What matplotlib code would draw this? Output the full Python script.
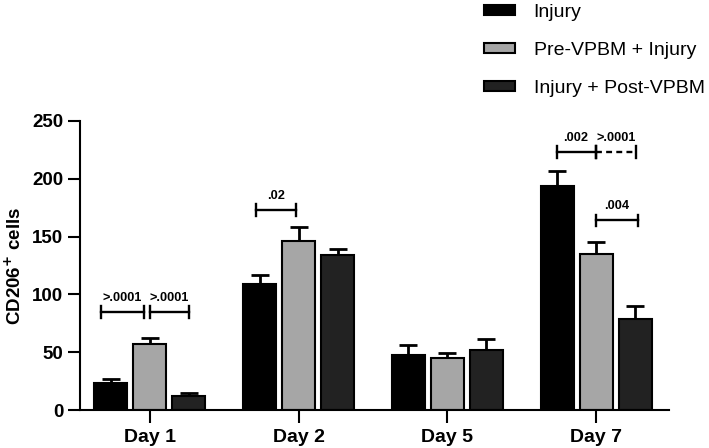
import matplotlib
matplotlib.use("Agg")
import matplotlib.pyplot as plt
import numpy as np

plt.rcParams['font.family'] = ['Liberation Sans', 'DejaVu Sans']

days = ["Day 1", "Day 2", "Day 5", "Day 7"]
series_names = ["Injury", "Pre-VPBM + Injury", "Injury + Post-VPBM"]
injury = [23, 109, 48, 194]
injury_err = [4, 8, 8, 12.5]
pre = [57, 146, 45, 135]
pre_err = [5, 12.5, 4, 10]
post = [12.5, 134, 52, 79]
post_err = [2, 5.5, 9, 11]
colors = ["#000000", "#a6a6a6", "#222222"]

# significance brackets: (day index, x start, x end (relative to group centre), y level, label, dashed)
sig = [
    (0, -0.33, -0.04, 85, ">.0001", False),
    (0, 0.0, 0.26, 85, ">.0001", False),
    (1, -0.29, -0.02, 173, ".02", False),
    (3, -0.266, -0.005, 223, ".002", False),
    (3, 0.0, 0.267, 223, ">.0001", True),
    (3, 0.0, 0.278, 164, ".004", False),
]

fig = plt.figure(figsize=(7.09, 4.48), dpi=100)
ax = fig.add_axes([80/709, 1-410/448, 589/709, 289/448])

x = np.arange(len(days))
w = 0.222
off = 0.262
data = [(injury, injury_err), (pre, pre_err), (post, post_err)]
for i, (vals, errs) in enumerate(data):
    xs = x + (i-1)*off
    ax.bar(xs, vals, width=w, color=colors[i], edgecolor="black", linewidth=1.5,
           label=series_names[i], zorder=2)
    ax.errorbar(xs, vals, yerr=[np.zeros(len(vals)), errs], fmt="none",
                ecolor="black", elinewidth=2, capsize=6.5, capthick=2, zorder=1)

for d, a, b, yv, lab, dashed in sig:
    xa = d + a
    xb = d + b
    ls = (0, (2.5, 1.8)) if dashed else "-"
    ax.plot([xa, xb], [yv, yv], color="black", lw=1.7, ls=ls)
    ax.plot([xa, xa], [yv-5, yv+5], color="black", lw=1.7)
    ax.plot([xb, xb], [yv-5, yv+5], color="black", lw=1.7)
    ax.text((xa+xb)/2, yv+7, lab, ha="center", va="bottom", fontsize=9.2, fontweight="bold")

ax.set_ylim(0, 250)
ax.set_xlim(-0.470, 3.489)
ax.set_yticks([0, 50, 100, 150, 200, 250])
ax.set_xticks(x)
ax.set_xticklabels(days)
for s in ["top", "right"]:
    ax.spines[s].set_visible(False)
for s in ["left", "bottom"]:
    ax.spines[s].set_linewidth(1.5)
ax.tick_params(axis="y", length=9, width=1.5, labelsize=13.5, pad=3)
ax.tick_params(axis="x", length=9, width=1.5, labelsize=14, pad=5)
for lbl in ax.get_xticklabels() + ax.get_yticklabels():
    lbl.set_fontweight("bold")
ax.set_ylabel("CD206$^{\\mathbf{+}}$ cells", fontsize=13.5, fontweight="bold", labelpad=5)

handles, labels = ax.get_legend_handles_labels()
fig.legend(handles, labels, loc="upper left", bbox_to_anchor=(484/709, 1-4/448), frameon=False,
           fontsize=14, handlelength=1.6, handleheight=0.42, labelspacing=1.07,
           handletextpad=0.95, borderpad=0, borderaxespad=0)

fig.savefig("out.png", dpi=100)
